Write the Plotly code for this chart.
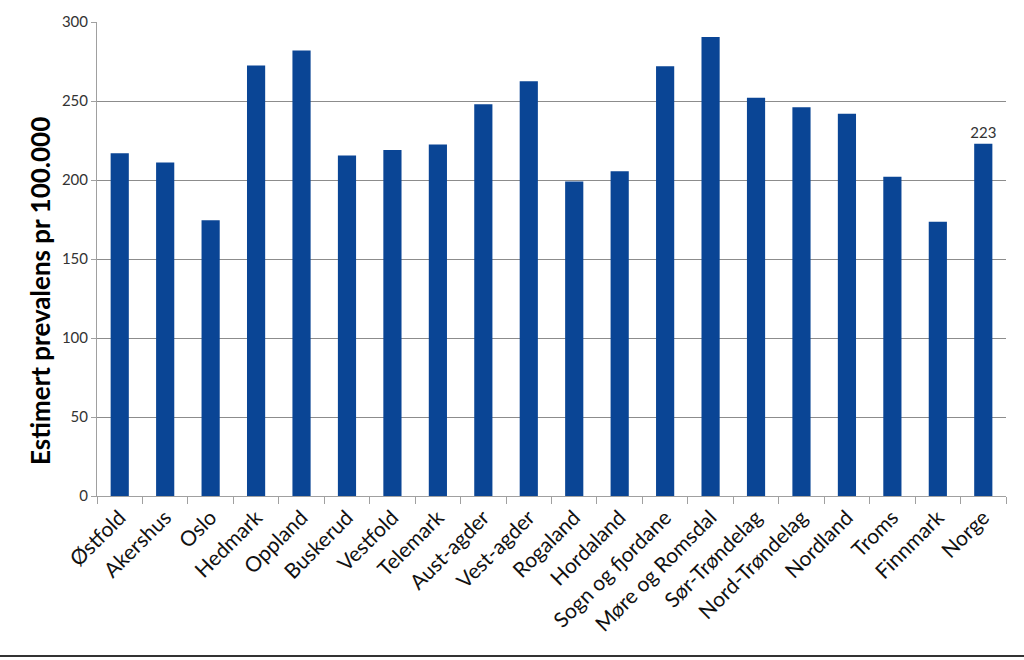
import plotly.graph_objects as go

categories = ["Østfold", "Akershus", "Oslo", "Hedmark", "Oppland", "Buskerud", "Vestfold",
              "Telemark", "Aust-agder", "Vest-agder", "Rogaland", "Hordaland",
              "Sogn og fjordane", "Møre og Romsdal", "Sør-Trøndelag", "Nord-Trøndelag",
              "Nordland", "Troms", "Finnmark", "Norge"]
values = [217, 211, 174.5, 272.5, 282, 215.5, 219, 222.5, 248, 262.5, 199, 205.5,
          272, 290.5, 252, 246, 242, 202, 173.5, 223]
labels = ["" for _ in values[:-1]] + ["223"]
y_title = "Estimert prevalens pr 100.000"

fig = go.Figure(go.Bar(
    x=categories, y=values,
    marker=dict(color="#0A4595", line=dict(width=0)),
    text=labels, textposition="outside", cliponaxis=False, constraintext="none",
    textfont=dict(family="Lato, Open Sans, sans-serif", size=15, color="#333333"),
))

fig.update_layout(
    width=1024, height=660,
    margin=dict(l=97, r=18, t=18, b=164),
    paper_bgcolor="white", plot_bgcolor="white",
    bargap=0.6, showlegend=False,
    font=dict(family="Lato, Open Sans, sans-serif", color="#000000"),
    xaxis=dict(
        tickangle=-45, tickfont=dict(size=21, color="#111111"),
        showline=True, linecolor="#a0a0a0", linewidth=1,
        ticks="outside", tickson="boundaries", ticklen=7, tickcolor="#a0a0a0",
        showgrid=False,
    ),
    yaxis=dict(
        range=[0, 300], dtick=50, tickfont=dict(size=15, color="#333333"),
        showgrid=True, gridcolor="#8c8c8c", gridwidth=1,
        showline=True, linecolor="#a0a0a0", linewidth=1,
        ticks="outside", ticklen=5, tickcolor="#a0a0a0",
        zeroline=False,
    ),
    annotations=[dict(text="<b>" + y_title + "</b>", xref="paper", yref="paper",
                      x=-57/909, y=207/478.5, textangle=-90, showarrow=False,
                      xanchor="center", yanchor="middle",
                      font=dict(size=26, color="#000000"))],
    shapes=[dict(type="line", xref="paper", yref="paper",
                 x0=-97/909, x1=927/909, y0=-161.5/478.5, y1=-161.5/478.5,
                 line=dict(color="#333333", width=2))],
)

fig.write_html("out.html")
